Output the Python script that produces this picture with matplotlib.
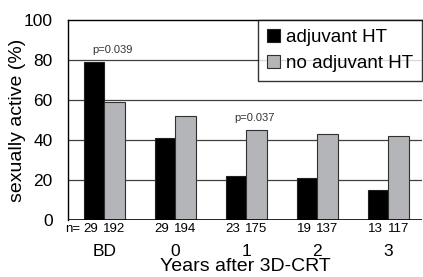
import numpy as np
import matplotlib.pyplot as plt

plt.rcParams['font.family'] = ['Liberation Sans', 'DejaVu Sans']

groups = ['BD', '0', '1', '2', '3']
adj = [79, 41, 22, 21, 15]
no_adj = [59, 52, 45, 43, 42]
n_adj = [29, 29, 23, 19, 13]
n_no = [192, 194, 175, 137, 117]
pvals = {0: 'p=0.039', 2: 'p=0.037'}

fig = plt.figure(figsize=(4.23, 2.77), dpi=100)
ax = fig.add_axes([0.161, 0.206, 0.837, 0.722])

x = np.arange(len(groups))
w = 0.29
ax.bar(x - w/2, adj, w, color='black', edgecolor='#202020', lw=0.8, label='adjuvant HT', zorder=3)
ax.bar(x + w/2, no_adj, w, color='#b4b5b9', edgecolor='#303030', lw=0.8, label='no adjuvant HT', zorder=3)

ax.set_ylim(0, 100)
ax.set_xlim(-0.51, 4.48)
ax.set_yticks([0, 20, 40, 60, 80, 100])
ax.tick_params(axis='y', length=0, labelsize=12.5, pad=11)
ax.set_xticks(x)
ax.set_xticklabels(groups)
ax.tick_params(axis='x', length=0, labelsize=12.5, pad=17)
for y in [20, 40, 60, 80]:
    ax.axhline(y, color='#404040', lw=0.9, zorder=1)
for s in ['right', 'bottom']:
    ax.spines[s].set_visible(False)
ax.spines['left'].set_linewidth(1.0)
ax.spines['top'].set_linewidth(1.0)
ax.axhline(0, color='black', lw=1.2, zorder=4)

for i in range(len(groups)):
    ax.text(x[i] - w/2 - 0.04, -1.5, str(n_adj[i]), ha='center', va='top', fontsize=9.5)
    ax.text(x[i] + w/2, -1.5, str(n_no[i]), ha='center', va='top', fontsize=9.5)
ax.text(x[0] - w/2 - 0.2, -1.5, 'n=', ha='right', va='top', fontsize=9.5)
for i, p in pvals.items():
    ax.text(x[i] - w/2 - 0.02, max(adj[i], no_adj[i]) + 3.5, p, ha='left', va='bottom',
            fontsize=8, color='#333333')

ax.set_xlabel('Years after 3D-CRT', fontsize=14, va='center')
ax.xaxis.set_label_coords(0.5, -0.235)
ax.set_ylabel('sexually active (%)', fontsize=14, va='center')
ax.yaxis.set_label_coords(-0.144, 0.5)

leg = ax.legend(loc='upper right', fontsize=13.5, frameon=True, fancybox=False,
                edgecolor='black', handlelength=0.7, handleheight=0.7, handletextpad=0.3,
                borderaxespad=0, borderpad=0.5, labelspacing=0.45)
leg.get_frame().set_linewidth(1.0)

plt.savefig('out.png', dpi=100)
